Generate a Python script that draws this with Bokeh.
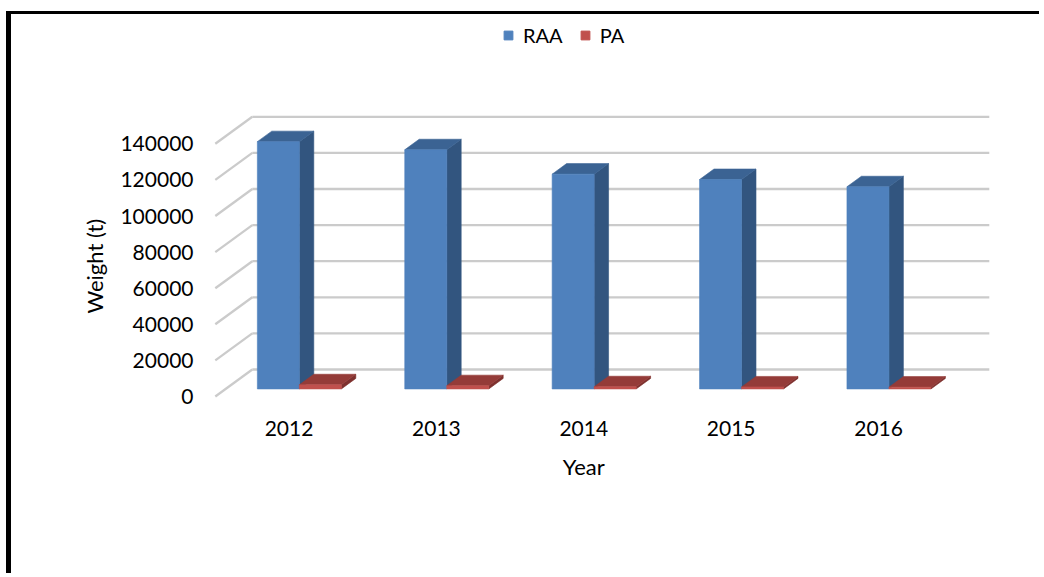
from bokeh.plotting import figure
from bokeh.models import (FixedTicker, LinearAxis, Legend, LegendItem,
                          BasicTickFormatter, Range1d)
from bokeh.embed import file_html
from bokeh.resources import INLINE

# ---------------- data ----------------
years = ["2012", "2013", "2014", "2015", "2016"]
raa = [137000, 132500, 119000, 116000, 112000]
pa = [2300, 1800, 1200, 1100, 1000]
y_ticks = [0, 20000, 40000, 60000, 80000, 100000, 120000, 140000]
series_names = ["RAA", "PA"]
x_title = "Year"
y_title = "Weight  (t)"

# ---------------- geometry (pixels) ----------------
W, H = 1033, 562
FL, FR, FT, FB = 194, 989, 6, 391      # frame edges in canvas px
X0 = 277.5                             # canvas x of first category (front plane)
Y0 = 382.0                             # canvas y of value 0 (front plane)
CAT_PX = 147.4
UNIT_PX = 36.1 / 20000

x_start = (FL - X0) / CAT_PX
x_end = (FR - X0) / CAT_PX
y_start = -(FB - Y0) / UNIT_PX
y_end = (Y0 - FT) / UNIT_PX

DX = 37 / CAT_PX          # depth vector in data units
DY = 27 / UNIT_PX
D0, D1 = 0.28, 0.67       # bar depth span (fraction of floor depth)
BW = 0.285                # bar width (category units)

FONT = "Lato"
TICK_FS = "21px"
TITLE_FS = "22px"
LEG_FS = "20px"

p = figure(width=W, height=H, x_range=Range1d(x_start, x_end),
           y_range=Range1d(y_start, y_end), output_backend="svg",
           toolbar_location=None, title=None,
           min_border_left=FL, min_border_right=W - FR,
           min_border_top=FT, min_border_bottom=H - FB)
p.outline_line_color = None
p.xgrid.visible = False
p.ygrid.visible = False
p.background_fill_color = "white"
p.border_fill_color = "white"
p.styles = {"border-left": "5px solid black", "border-top": "3px solid black",
            "margin-top": "11px", "margin-left": "6px"}

n = len(years)
wall_l, wall_r = -0.5, n - 0.5

# ---- gridlines: back wall + left wall diagonals ----
grid_color = "#cbcbcb"
p.multi_line(xs=[[wall_l + DX, wall_r + DX] for _ in y_ticks],
             ys=[[v + DY, v + DY] for v in y_ticks],
             line_color=grid_color, line_width=2.3)
p.multi_line(xs=[[wall_l, wall_l + DX] for _ in y_ticks],
             ys=[[v, v + DY] for v in y_ticks],
             line_color=grid_color, line_width=2.3)


def faces(values, offset):
    fr_x, fr_y, tp_x, tp_y, sd_x, sd_y = [], [], [], [], [], []
    for i, v in enumerate(values):
        a = i + offset
        x0f, x1f = a + D0 * DX, a + BW + D0 * DX
        x0b, x1b = a + D1 * DX, a + BW + D1 * DX
        yb0, yb1 = D0 * DY, D1 * DY
        fr_x.append([x0f, x1f, x1f, x0f])
        fr_y.append([yb0, yb0, v + yb0, v + yb0])
        tp_x.append([x0f, x1f, x1b, x0b])
        tp_y.append([v + yb0, v + yb0, v + yb1, v + yb1])
        sd_x.append([x1f, x1b, x1b, x1f])
        sd_y.append([yb0, yb1, v + yb1, v + yb0])
    return fr_x, fr_y, tp_x, tp_y, sd_x, sd_y


colors = {
    "RAA": ("#4F81BD", "#3B6393", "#32557F"),
    "PA": ("#C0504D", "#943B38", "#7E302E"),
}

for name, vals, off in [("RAA", raa, -BW), ("PA", pa, 0.0)]:
    fx, fy, tx, ty, sx, sy = faces(vals, off)
    cf, ct, cs = colors[name]
    p.patches(xs=sx, ys=sy, fill_color=cs, line_color=cs, line_width=0.6)
    p.patches(xs=tx, ys=ty, fill_color=ct, line_color=ct, line_width=0.6)
    p.patches(xs=fx, ys=fy, fill_color=cf, line_color=cf, line_width=0.6)

# ---- legend proxies (not drawn: NaN position) ----
leg_r = []
for name in series_names:
    r = p.scatter(x=[float("nan")], y=[float("nan")], marker="square", size=9,
                  fill_color=colors[name][0], line_color=colors[name][0])
    leg_r.append(r)
legend = Legend(items=[LegendItem(label=nm, renderers=[r], index=0)
                       for nm, r in zip(series_names, leg_r)],
                orientation="horizontal", location=(292, 358), padding=0, margin=0,
                spacing=11, label_standoff=4, glyph_width=22, glyph_height=22,
                border_line_color=None, background_fill_alpha=0,
                label_text_font=FONT, label_text_font_size=LEG_FS,
                label_text_color="black")
p.add_layout(legend)

# ---- axes ----
ya = p.yaxis[0]
ya.ticker = FixedTicker(ticks=y_ticks)
ya.formatter = BasicTickFormatter(use_scientific=False)
ya.axis_line_color = None
ya.major_tick_line_color = None
ya.minor_tick_line_color = None
ya.major_label_standoff = 6
ya.major_label_text_font = FONT
ya.major_label_text_font_size = TICK_FS
ya.major_label_text_color = "black"

# y title as a rotated label on an extra left axis, centred on the drawn chart
y_mid = (y_ticks[-1] + DY / 2) / 2
yt = LinearAxis(ticker=FixedTicker(ticks=[y_mid]),
                major_label_overrides={y_mid: y_title},
                major_label_orientation="vertical")
yt.axis_line_color = None
yt.major_tick_line_color = None
yt.minor_tick_line_color = None
yt.major_label_standoff = 3
yt.major_label_text_font = FONT
yt.major_label_text_font_size = TITLE_FS
yt.major_label_text_color = "black"
p.add_layout(yt, "left")

xa = p.xaxis[0]
xa.ticker = FixedTicker(ticks=list(range(n)))
xa.major_label_overrides = {i: y for i, y in enumerate(years)}
xa.axis_line_color = None
xa.major_tick_line_color = None
xa.minor_tick_line_color = None
xa.major_label_standoff = 9
xa.major_label_text_font = FONT
xa.major_label_text_font_size = TICK_FS
xa.major_label_text_color = "black"

xt = LinearAxis(ticker=FixedTicker(ticks=[(n - 1) / 2]),
                major_label_overrides={(n - 1) / 2: x_title})
xt.axis_line_color = None
xt.major_tick_line_color = None
xt.minor_tick_line_color = None
xt.major_label_standoff = 8
xt.major_label_text_font = FONT
xt.major_label_text_font_size = TITLE_FS
xt.major_label_text_color = "black"
p.add_layout(xt, "below")

open("out.html", "w").write(file_html(p, INLINE))
